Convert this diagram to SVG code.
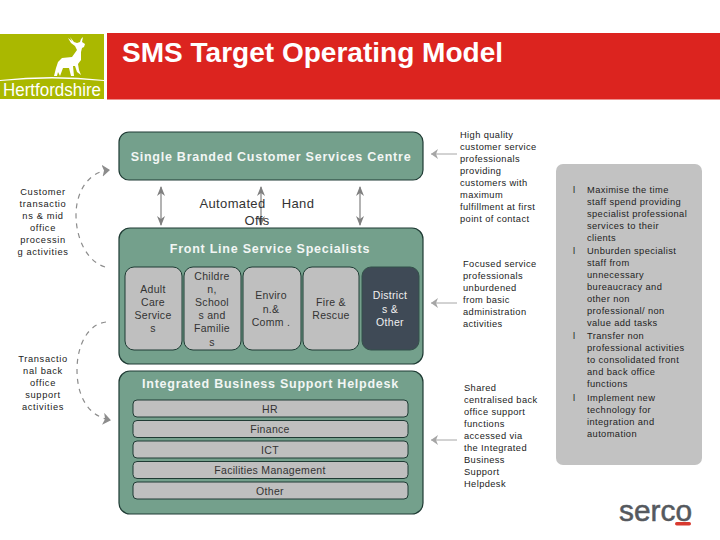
<svg xmlns="http://www.w3.org/2000/svg" width="720" height="540" viewBox="0 0 720 540">
<style>
text{font-family:"Liberation Sans",Arial,sans-serif}
.b{fill:#74a08c;stroke:#1f3b34;stroke-width:1.2}
.i{fill:#bfbfbf;stroke:#1f3b34;stroke-width:1}
.h{font-size:12.5px;font-weight:bold;fill:#f2f6f4;text-anchor:middle;letter-spacing:.75px}
.m{font-size:10.5px;fill:#333;text-anchor:middle;letter-spacing:.3px}
.s{font-size:9.3px;fill:#222;letter-spacing:.4px}
.c{text-anchor:middle}
.l{letter-spacing:.65px}
.a{font-size:13px;fill:#333;letter-spacing:.35px}
.ar{stroke:#808080;stroke-width:1.2;fill:none}
.th{stroke:#a6a6a6;stroke-width:1;fill:none}
.d{stroke:#8c8c8c;stroke-width:1.2;fill:none;stroke-dasharray:5 5}
</style>
<defs>
<marker id="dh" viewBox="0 0 10 8" refX="9" refY="4" markerWidth="10" markerHeight="8" markerUnits="userSpaceOnUse" orient="auto-start-reverse"><path d="M0 0L10 4L0 8L3 4Z" fill="#808080"/></marker>
<marker id="th" viewBox="0 0 8 10" refX="7" refY="5" markerWidth="8" markerHeight="10" markerUnits="userSpaceOnUse" orient="auto"><path d="M0 0L7 5L0 10L2 5Z" fill="#a6a6a6"/></marker>
<marker id="dd" viewBox="0 0 8 12" refX="7" refY="6" markerWidth="8" markerHeight="12" markerUnits="userSpaceOnUse" orient="auto"><path d="M0 0L8 6L0 12L2 6Z" fill="#8c8c8c"/></marker>
</defs>
<rect width="720" height="540" fill="#fff"/>
<g id="logo">
<rect x="0" y="34" width="104" height="65" fill="#aab800"/>
<path d="M0 80Q52 74 104 80L104 81Q52 76 0 81Z" fill="#fff"/>
<path d="M54 76L56 68L58 62L62 58L72 57L77 50L75 46L71 43L68 38L72 41L70 37L74 42L77 43L80 42L81 39L83 37L82 42L85 44L84 47L82 48L81 52L81 60L78 64L79 70L81 75L77 72L75 66L73 66L74 76L71 76L69 68L63 68L60 76L58 72L57 76Z" fill="#fff"/>
<text x="52" y="96" font-size="17.5" fill="#fff" text-anchor="middle" textLength="98" lengthAdjust="spacingAndGlyphs">Hertfordshire</text>
</g>
<g id="header">
<rect x="107" y="33" width="613" height="66.500" fill="#dc241f"/>
<text x="122" y="62" font-size="28" font-weight="bold" fill="#fff" textLength="381" lengthAdjust="spacingAndGlyphs">SMS Target Operating Model</text>
</g>
<g id="connectors">
<path class="ar" d="M161 187V225" marker-start="url(#dh)" marker-end="url(#dh)"/>
<path class="ar" d="M261 187V225" marker-start="url(#dh)" marker-end="url(#dh)"/>
<path class="ar" d="M360 187V225" marker-start="url(#dh)" marker-end="url(#dh)"/>
<path class="th" d="M457 154H431" marker-end="url(#th)"/>
<path class="th" d="M457 303H431" marker-end="url(#th)"/>
<path class="th" d="M457 440H431" marker-end="url(#th)"/>
<path class="d" d="M105 267C88 262 76 240 76 215C76 192 88 172 109 170" marker-end="url(#dd)"/>
<path class="d" d="M106 322C88 324 77 345 77 370C77 396 88 416 110 420" marker-end="url(#dd)"/>
</g>
<g id="customer-centre">
<rect class="b" x="119" y="132" width="304" height="48" rx="10"/>
<text class="h" x="271" y="161">Single Branded Customer Services Centre</text>
</g>
<g id="automated">
<text class="a c" x="232.500" y="208">Automated</text>
<text class="a c" x="298" y="208">Hand</text>
<text class="a c" x="257" y="225">Offs</text>
</g>
<g id="front-line">
<rect class="b" x="119" y="228" width="304" height="136" rx="11"/>
<text class="h" x="270" y="253">Front Line Service Specialists</text>
</g>
<g id="adult-care">
<rect class="i" x="125" y="267" width="57" height="83" rx="9"/>
<text class="m"><tspan x="153" y="293">Adult</tspan><tspan x="153" y="306">Care</tspan><tspan x="153" y="319">Service</tspan><tspan x="153" y="332">s</tspan></text>
</g>
<g id="children">
<rect class="i" x="184" y="267" width="57" height="83" rx="9"/>
<text class="m"><tspan x="212" y="280">Childre</tspan><tspan x="212" y="293">n,</tspan><tspan x="212" y="306">School</tspan><tspan x="212" y="319">s and</tspan><tspan x="212" y="332">Familie</tspan><tspan x="212" y="346">s</tspan></text>
</g>
<g id="enviro">
<rect class="i" x="243" y="267" width="58" height="83" rx="9"/>
<text class="m"><tspan x="271" y="299">Enviro</tspan><tspan x="271" y="313">n.&amp;</tspan><tspan x="271" y="326">Comm .</tspan></text>
</g>
<g id="fire">
<rect class="i" x="303" y="267" width="56" height="83" rx="9"/>
<text class="m"><tspan x="331" y="306">Fire &amp;</tspan><tspan x="331" y="319">Rescue</tspan></text>
</g>
<g id="districts">
<rect x="362" y="267" width="57" height="83" rx="9" fill="#3f4a56" stroke="#33514a"/>
<text class="m" style="fill:#f0f0f0"><tspan x="390" y="299">District</tspan><tspan x="390" y="313">s &amp;</tspan><tspan x="390" y="326">Other</tspan></text>
</g>
<g id="helpdesk">
<rect class="b" x="119" y="371" width="304" height="143" rx="11"/>
<text class="h" x="270.500" y="388">Integrated Business Support Helpdesk</text>
</g>
<g id="hr"><rect class="i" x="133" y="400" width="275" height="17" rx="4"/><text class="m" x="270" y="413">HR</text></g>
<g id="finance"><rect class="i" x="133" y="420.500" width="275" height="17" rx="4"/><text class="m" x="270" y="433">Finance</text></g>
<g id="ict"><rect class="i" x="133" y="441" width="275" height="17" rx="4"/><text class="m" x="270" y="454">ICT</text></g>
<g id="facilities"><rect class="i" x="133" y="461.500" width="275" height="17" rx="4"/><text class="m" x="270" y="474">Facilities Management</text></g>
<g id="other"><rect class="i" x="133" y="482" width="275" height="17" rx="4"/><text class="m" x="270" y="495">Other</text></g>
<g id="left-labels">
<text class="s c l"><tspan x="43" y="195">Customer</tspan><tspan x="43" y="207">transactio</tspan><tspan x="43" y="219">ns &amp; mid</tspan><tspan x="43" y="231">office</tspan><tspan x="43" y="243">processin</tspan><tspan x="43" y="255">g activities</tspan></text>
<text class="s c l"><tspan x="43" y="362">Transactio</tspan><tspan x="43" y="374">nal back</tspan><tspan x="43" y="386">office</tspan><tspan x="43" y="398">support</tspan><tspan x="43" y="410">activities</tspan></text>
</g>
<g id="right-labels">
<text class="s"><tspan x="460" y="138">High quality</tspan><tspan x="460" y="150">customer service</tspan><tspan x="460" y="162">professionals</tspan><tspan x="460" y="174">providing</tspan><tspan x="460" y="186">customers with</tspan><tspan x="460" y="198">maximum</tspan><tspan x="460" y="210">fulfillment at first</tspan><tspan x="460" y="222">point of contact</tspan></text>
<text class="s"><tspan x="463" y="267">Focused service</tspan><tspan x="463" y="279">professionals</tspan><tspan x="463" y="291">unburdened</tspan><tspan x="463" y="303">from basic</tspan><tspan x="463" y="315">administration</tspan><tspan x="463" y="327">activities</tspan></text>
<text class="s"><tspan x="464" y="391">Shared</tspan><tspan x="464" y="403">centralised back</tspan><tspan x="464" y="415">office support</tspan><tspan x="464" y="427">functions</tspan><tspan x="464" y="439">accessed via</tspan><tspan x="464" y="451">the Integrated</tspan><tspan x="464" y="463">Business</tspan><tspan x="464" y="475">Support</tspan><tspan x="464" y="487">Helpdesk</tspan></text>
</g>
<g id="benefits">
<rect x="556" y="164" width="146" height="301" rx="7" fill="#c2c2c2"/>
<text class="s"><tspan x="573" y="193">l</tspan><tspan x="587" y="193">Maximise the time</tspan><tspan x="587" y="205">staff spend providing</tspan><tspan x="587" y="217">specialist professional</tspan><tspan x="587" y="229">services to their</tspan><tspan x="587" y="241">clients</tspan><tspan x="573" y="254">l</tspan><tspan x="587" y="254">Unburden specialist</tspan><tspan x="587" y="266">staff from</tspan><tspan x="587" y="278">unnecessary</tspan><tspan x="587" y="290">bureaucracy and</tspan><tspan x="587" y="302">other non</tspan><tspan x="587" y="314">professional/ non</tspan><tspan x="587" y="326">value add tasks</tspan><tspan x="573" y="339">l</tspan><tspan x="587" y="339">Transfer non</tspan><tspan x="587" y="351">professional activities</tspan><tspan x="587" y="363">to consolidated front</tspan><tspan x="587" y="375">and back office</tspan><tspan x="587" y="387">functions</tspan><tspan x="573" y="401">l</tspan><tspan x="587" y="401">Implement new</tspan><tspan x="587" y="413">technology for</tspan><tspan x="587" y="425">integration and</tspan><tspan x="587" y="437">automation</tspan></text>
</g>
<g id="serco">
<text x="619" y="521" font-size="29" fill="#55595e" stroke="#55595e" stroke-width=".5" textLength="73" lengthAdjust="spacingAndGlyphs">serco</text>
<rect x="675" y="522" width="16" height="3.500" rx="1.700" fill="#d8392f"/>
</g>
</svg>
